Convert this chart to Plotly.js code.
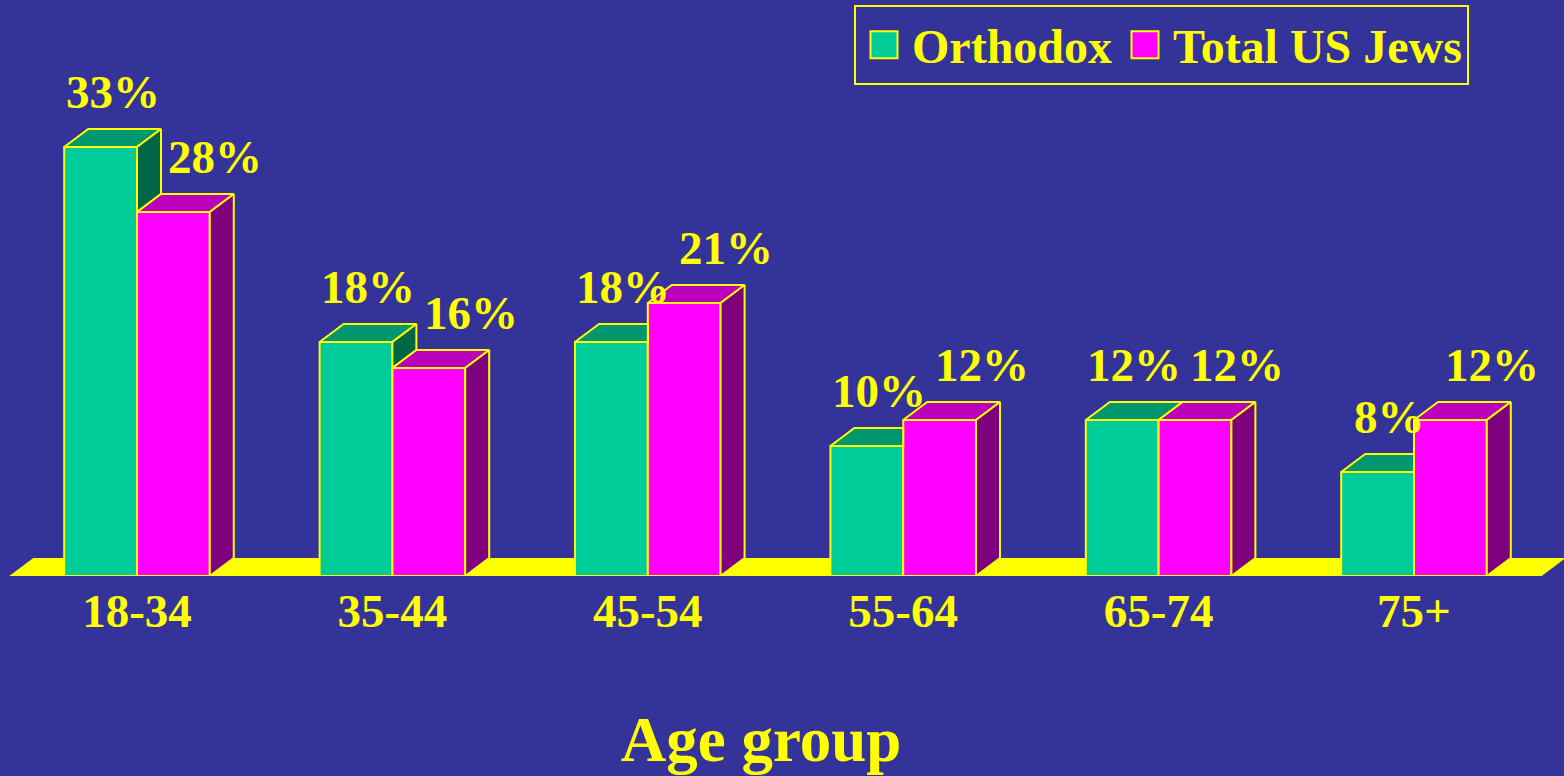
<!DOCTYPE html>
<html>
<head>
<meta charset="utf-8">
<script src="https://cdn.plot.ly/plotly-3.0.1.min.js"></script>
<style>
  html, body { margin: 0; padding: 0; background: #333399; }
  #chart { width: 1564px; height: 776px; }
</style>
</head>
<body>
<div id="chart"></div>
<script>
// ---- data ----
const ageGroups = ["18-34", "35-44", "45-54", "55-64", "65-74", "75+"];
const orthodox = [33, 18, 18, 10, 12, 8];
const totalUSJews = [28, 16, 21, 12, 12, 12];
const seriesNames = ["Orthodox", "Total US Jews"];

// ---- style ----
const BG = "#333399";
const YELLOW = "#FFFF00";
const GREEN = { front: "#00CC99", top: "#00966E", side: "#006646" };
const MAGENTA = { front: "#FF00FF", top: "#BB00BB", side: "#7F007F" };
const FONT = "Liberation Serif, Times New Roman, serif";

const W = 1564, H = 776;
const margin = { l: 0, r: 42, t: 0, b: 200 };
const plotW = W - margin.l - margin.r;
const plotH = H - margin.t - margin.b;
const pxPerCat = 255.4;
const firstCenterPx = 137;
const pxPerPct = 13;
const xRange = [-firstCenterPx / pxPerCat, (plotW - firstCenterPx) / pxPerCat];
const yRange = [0, plotH / pxPerPct];
const BARGAP = 0.43;
const barW = (1 - BARGAP) / 2;
// 3D depth offsets converted to data units
const DX = 24 / pxPerCat;
const DY = 18 / pxPerPct;

const idx = ageGroups.map((_, i) => i);

function polyTrace(polys, fillcolor) {
  const x = [], y = [];
  polys.forEach(p => {
    p.forEach(pt => { x.push(pt[0]); y.push(pt[1]); });
    x.push(p[0][0]); y.push(p[0][1]);
    x.push(null); y.push(null);
  });
  return {
    type: "scatter", mode: "lines", x: x, y: y, fill: "toself",
    fillcolor: fillcolor, line: { color: YELLOW, width: 2 },
    hoverinfo: "skip", showlegend: false, connectgaps: false
  };
}

const oTop = [], oSide = [], tTop = [], tSide = [];
idx.forEach(i => {
  const h1 = orthodox[i], h2 = totalUSJews[i];
  const xl1 = i - barW, xr1 = i, xl2 = i, xr2 = i + barW;
  if (h1 + DY <= h2) {
    oTop.push([[xl1, h1], [xr1, h1], [xr1, h1 + DY], [xl1 + DX, h1 + DY]]);
  } else {
    oTop.push([[xl1, h1], [xr1, h1], [xr1 + DX, h1 + DY], [xl1 + DX, h1 + DY]]);
  }
  if (h1 > h2) {
    oSide.push([[xr1, h2], [xr1, h1], [xr1 + DX, h1 + DY], [xr1 + DX, h2 + DY]]);
  }
  tTop.push([[xl2, h2], [xr2, h2], [xr2 + DX, h2 + DY], [xl2 + DX, h2 + DY]]);
  tSide.push([[xr2, 0], [xr2, h2], [xr2 + DX, h2 + DY], [xr2 + DX, DY]]);
});

const traces = [
  {
    type: "bar", name: seriesNames[0], x: idx, y: orthodox,
    marker: { color: GREEN.front, line: { color: YELLOW, width: 2 } },
    hoverinfo: "skip"
  },
  {
    type: "bar", name: seriesNames[1], x: idx, y: totalUSJews,
    marker: { color: MAGENTA.front, line: { color: YELLOW, width: 2 } },
    hoverinfo: "skip"
  },
  polyTrace(oTop, GREEN.top),
  polyTrace(oSide, GREEN.side),
  polyTrace(tTop, MAGENTA.top),
  polyTrace(tSide, MAGENTA.side)
];

const labelFont = { family: FONT, size: 47, color: YELLOW, weight: "bold" };
const annotations = [];
idx.forEach(i => {
  annotations.push({
    x: i - barW / 2, y: orthodox[i], xref: "x", yref: "y",
    text: orthodox[i] + "%", showarrow: false, yanchor: "bottom",
    xshift: 12, yshift: 27, font: labelFont
  });
  annotations.push({
    x: i + barW / 2, y: totalUSJews[i], xref: "x", yref: "y",
    text: totalUSJews[i] + "%", showarrow: false, yanchor: "bottom",
    xshift: 42, yshift: 27, font: labelFont
  });
});

// floor spans the category band; x given in paper units so it is not clipped at the right
const n = ageGroups.length;
const toPaper = v => (v - xRange[0]) / (xRange[1] - xRange[0]);
const floorPath = `M ${toPaper(-0.5)} 0 L ${toPaper(n - 0.5)} 0 L ${toPaper(n - 0.5 + DX)} ${DY} L ${toPaper(-0.5 + DX)} ${DY} Z`;

const layout = {
  width: W, height: H,
  margin: margin,
  paper_bgcolor: BG, plot_bgcolor: BG,
  barmode: "group", bargap: BARGAP, bargroupgap: 0,
  showlegend: true,
  legend: {
    orientation: "h", x: 854 / plotW, xanchor: "left", y: 1 - 5 / plotH, yanchor: "top",
    bgcolor: BG, bordercolor: YELLOW, borderwidth: 2, itemwidth: 46,
    font: { family: FONT, size: 48, color: YELLOW, weight: "bold" },
    traceorder: "normal"
  },
  xaxis: {
    range: xRange, tickvals: idx, ticktext: ageGroups,
    showgrid: false, zeroline: false, showline: false, ticks: "",
    ticklabelstandoff: 3,
    tickfont: { family: FONT, size: 47, color: YELLOW, weight: "bold" },
    title: { text: "Age group", font: { family: FONT, size: 63, color: YELLOW, weight: "bold" }, standoff: 80 },
    fixedrange: true
  },
  yaxis: { range: yRange, visible: false, fixedrange: true },
  shapes: [{
    type: "path", xref: "paper", yref: "y", path: floorPath,
    fillcolor: YELLOW, line: { width: 0 }, layer: "below"
  }],
  annotations: annotations
};

Plotly.newPlot("chart", traces, layout, { displayModeBar: false, staticPlot: true }).then(gd => {
  // enlarge the legend swatches to the size used in the original slide
  gd.querySelectorAll(".legend .legendpoints path").forEach(p => {
    p.setAttribute("d", "M13.5,13.5H-13.5V-13.5H13.5Z");
  });
});
</script>
</body>
</html>
